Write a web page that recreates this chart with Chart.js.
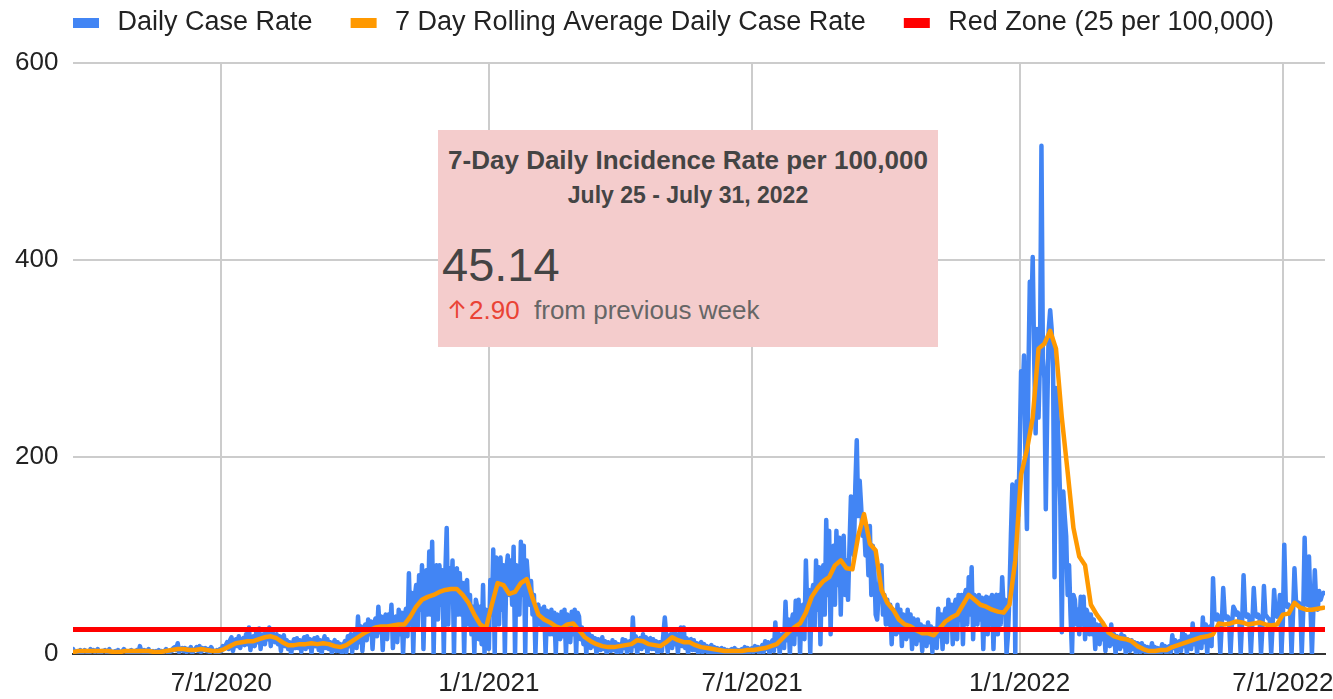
<!DOCTYPE html>
<html>
<head>
<meta charset="utf-8">
<title>Daily Case Rate</title>
<script src="https://cdn.jsdelivr.net/npm/chart.js@4.4.1/dist/chart.umd.min.js"></script>
<style>
  body { margin: 0; background: #fff; }
  #wrap { position: relative; width: 1333px; height: 699px; }
  #card {
    position: absolute; left: 438px; top: 130px; width: 500px; height: 217px;
    background: #f4cccc; font-family: 'Liberation Sans', Arial, sans-serif; color: #444;
  }
  #card div, #card span { position: absolute; white-space: nowrap; }
  .title { left: 0; width: 500px; text-align: center; top: 17px; font: bold 26px/26px 'Liberation Sans', Arial, sans-serif; }
  .dates { left: 0; width: 500px; text-align: center; top: 54px; font: bold 23px/23px 'Liberation Sans', Arial, sans-serif; }
  .big { left: 4px; top: 111px; font: 47px/47px 'Liberation Sans', Arial, sans-serif; }
  .delta, .from { top: 167px; font: 26px/26px 'Liberation Sans', Arial, sans-serif; }
  .arrow { left: 9px; top: 168px; font: 24px/24px Inter, 'DejaVu Sans', sans-serif; color: #ea4335; }
  .delta { left: 31px; color: #ea4335; }
  .from { left: 96px; color: #666; }
</style>
</head>
<body>
<div id="wrap">
  <canvas id="chart" width="1333" height="699"></canvas>
  <div id="card">
    <div class="title">7-Day Daily Incidence Rate per 100,000</div>
    <div class="dates">July 25 - July 31, 2022</div>
    <div class="big">45.14</div>
    <span class="arrow">↑</span><span class="delta">2.90</span><span class="from">from previous week</span>
  </div>
</div>
<script>
// day 0 = 3/21/2020, one value per day, one row per week
const dailyCaseRate = [
  5,2,1,3,0,4,2,  2,4,3,1,0,5,3,  4,2,3,5,1,0,3,  3,4,2,1,5,0,2,
  2,3,1,4,0,2,3,  5,3,2,0,3,4,1,  3,2,4,0,8,3,2,  4,1,3,5,0,2,3,
  2,3,0,4,1,3,2,  3,5,2,0,4,3,6,  7,4,11,2,5,6,3,  6,2,5,3,7,1,4,
  5,7,3,8,2,6,4,  6,3,5,1,7,4,3,  2,4,1,5,3,8,6,  9,12,5,14,17,3,10,
  15,8,18,6,14,16,9,  20,10,27,4,14,18,8,  22,12,26,5,18,20,10,  25,15,27,8,22,20,12,
  20,10,18,3,16,19,8,  14,5,12,0,10,15,6,  16,6,14,2,12,17,5,  18,7,15,1,13,16,8,
  17,4,14,0,12,18,6,  15,5,12,1,11,14,3,  12,3,10,0,9,13,2,  18,8,20,2,15,22,6,
  38,12,28,3,22,30,14,  35,20,33,5,30,36,18,  48,22,38,4,35,40,15,  40,25,50,6,36,38,12,
  45,20,42,0,38,46,18,  82,30,62,2,58,70,25,  80,45,90,5,65,85,40,  104,40,114,0,75,90,35,
  90,50,85,0,80,128,30,  87,55,95,0,85,87,40,  82,40,72,0,70,75,30,  60,20,48,0,55,48,15,
  48,10,70,0,45,40,5,  75,40,106,0,98,85,30,  98,45,90,0,85,100,60,  95,50,109,0,90,85,40,
  114,60,110,0,95,74,50,  74,40,60,0,48,50,30,  46,25,48,0,44,40,20,  45,20,42,0,40,38,15,
  43,18,45,0,40,35,12,  43,20,45,0,42,38,15,  27,10,25,0,22,20,6,  18,8,16,0,15,14,4,
  17,5,13,0,12,10,3,  14,4,12,0,10,9,2,  15,6,14,1,12,13,3,  37,8,18,0,14,16,5,
  20,7,17,0,15,16,5,  15,5,13,0,12,12,3,  20,37,18,2,16,20,6,  22,10,20,1,18,27,8,
  27,6,16,0,14,15,4,  14,4,11,0,10,12,2,  10,3,8,0,7,9,1,  7,2,6,0,5,6,1,
  5,2,4,0,4,5,1,  6,1,4,0,4,5,1,  7,2,6,0,5,6,2,  8,3,7,0,6,9,2,
  13,5,12,0,10,14,3,  32,8,22,0,18,20,6,  53,14,35,0,30,40,10,  54,20,55,0,45,50,15,
  95,40,65,0,60,70,25,  95,45,88,10,80,90,40,  136,60,125,20,100,110,50,  125,70,118,40,110,120,60,
  95,55,110,160,120,100,170,  217,140,176,150,120,130,100,  125,80,130,60,110,90,40,  35,60,85,90,40,60,30,
  55,30,50,10,45,40,20,  50,22,45,8,40,38,15,  45,18,40,5,36,33,10,  35,14,30,3,28,27,8,
  32,12,28,2,26,25,6,  46,18,40,5,38,46,12,  55,25,50,10,48,55,15,  60,35,60,10,58,65,30,
  78,40,88,15,60,55,30,  60,35,57,5,55,58,20,  57,30,60,5,55,60,20,  60,30,78,45,55,0,20,
  60,120,172,165,0,175,140,  204,287,260,303,200,127,280,  378,340,403,300,224,330,240,  300,516,300,280,147,250,329,
  349,330,290,78,270,245,200,  150,22,165,140,120,60,90,  40,0,60,55,30,45,20,  58,30,58,15,45,40,20,
  40,20,35,5,30,28,10,  30,15,28,3,25,22,8,  30,10,20,0,18,16,5,  20,8,18,0,15,14,3,
  14,5,12,0,11,10,2,  11,3,8,0,7,6,1,  11,2,7,0,6,5,1,  10,3,8,0,7,8,2,
  19,6,14,0,12,13,3,  25,8,19,0,17,18,5,  31,10,25,0,22,24,6,  37,12,30,0,27,28,8,
  77,38,35,40,36,0,30,  67,40,36,38,35,0,30,  48,45,40,42,38,0,32,  80,42,38,40,36,0,30,
  67,42,38,40,36,0,28,  69,40,38,36,35,0,30,  65,42,38,40,60,0,32,  111,52,48,50,45,0,40,
  87,55,50,52,48,0,42,  118,55,50,99,48,0,45,  85,50,45,64,55,60,62
];

// 7 day rolling average, read every 4 days
const rollingStep = 4;
const rollingAvg = [
  2,3,3,3,3,3,3,2,2,3,  3,3,3,3,2,2,3,4,5,5,
  4,4,5,4,3,3,5,8,11,12,  13,13,15,17,18,16,12,9,9,10,
  10,11,10,11,10,8,7,9,13,17,  21,24,27,28,28,29,30,30,38,48,
  55,58,60,63,65,66,66,60,52,40,  30,26,50,72,70,61,63,72,76,57,
  40,35,32,28,26,30,31,24,17,13,  10,8,7,7,8,9,10,14,13,10,
  9,8,12,17,14,12,12,9,7,6,  5,4,3,3,3,3,4,4,5,6,
  8,10,16,22,27,31,42,58,67,74,  78,90,95,87,86,120,142,112,105,65,
  52,45,35,30,28,24,21,21,19,26,  33,37,40,50,60,55,50,48,45,43,
  42,50,95,182,207,240,310,315,328,310,  240,185,128,99,90,50,40,32,22,18,
  16,15,13,8,5,3,3,4,4,7,  9,11,13,15,17,18,20,31,30,31,
  33,32,30,31,32,30,29,30,40,41,  52,47,45,45,46,47
];

const redZone = 25;
const lastDay = 861;

const tickLabels = ['7/1/2020', '1/1/2021', '7/1/2021', '1/1/2022', '7/1/2022'];
const tickDays = [102, 286, 467, 651, 832];

const seriesNames = ['Daily Case Rate', '7 Day Rolling Average Daily Case Rate', 'Red Zone (25 per 100,000)'];
const seriesColors = ['#4285f4', '#ff9900', '#ff0000'];

const FONT = "'Liberation Sans', Arial, sans-serif";
Chart.defaults.font.family = FONT;

// legend swatch: a 26x10 bar sitting inside a wider transparent image
function swatch(color) {
  const c = document.createElement('canvas');
  c.width = 60; c.height = 10;
  const g = c.getContext('2d');
  g.fillStyle = color;
  g.fillRect(29, 0, 26, 10);
  return c;
}
const swatches = seriesColors.map(swatch);

new Chart(document.getElementById('chart').getContext('2d'), {
  type: 'line',
  data: {
    datasets: [
      {
        label: seriesNames[0],
        data: dailyCaseRate.map((v, i) => ({x: i, y: v})),
        borderColor: seriesColors[0],
        backgroundColor: seriesColors[0],
        borderWidth: 4.5,
        order: 2
      },
      {
        label: seriesNames[1],
        data: rollingAvg.map((v, i) => ({x: i * rollingStep, y: v})),
        borderColor: seriesColors[1],
        backgroundColor: seriesColors[1],
        borderWidth: 4.5,
        order: 1
      },
      {
        label: seriesNames[2],
        data: [{x: 0, y: redZone}, {x: lastDay, y: redZone}],
        borderColor: seriesColors[2],
        backgroundColor: seriesColors[2],
        borderWidth: 5,
        order: 0
      }
    ]
  },
  options: {
    responsive: false,
    animation: false,
    events: [],
    elements: {
      point: { radius: 0, hoverRadius: 0 },
      line: { tension: 0, borderJoinStyle: 'round', borderCapStyle: 'round' }
    },
    layout: { padding: { left: 35, right: 8, top: 0, bottom: 0 } },
    plugins: {
      tooltip: { enabled: false },
      legend: {
        position: 'top',
        align: 'start',
        labels: {
          font: { size: 27, family: FONT },
          color: '#222',
          padding: 9,
          usePointStyle: true,
          pointStyleWidth: 60,
          sort: (a, b) => a.datasetIndex - b.datasetIndex,
          generateLabels: chart => {
            const items = Chart.defaults.plugins.legend.labels.generateLabels(chart);
            items.forEach(it => { it.pointStyle = swatches[it.datasetIndex]; });
            return items;
          }
        }
      }
    },
    scales: {
      x: {
        type: 'linear',
        min: 0,
        max: lastDay,
        afterBuildTicks: scale => { scale.ticks = tickDays.map(v => ({value: v})); },
        afterFit: scale => { scale.height = 45; scale.paddingLeft = 0; scale.paddingRight = 0; },
        ticks: {
          autoSkip: false,
          maxRotation: 0,
          padding: 14,
          color: '#222',
          font: { size: 26 },
          callback: value => tickLabels[tickDays.indexOf(value)]
        },
        grid: { color: '#cccccc', lineWidth: 2, drawTicks: false },
        border: { display: true, color: '#333', width: 2 }
      },
      xTop: {
        type: 'linear',
        position: 'top',
        afterFit: scale => { scale.height = 17; scale.paddingLeft = 0; scale.paddingRight = 0; },
        ticks: { display: false },
        grid: { display: false },
        border: { display: false }
      },
      y: {
        min: 0,
        max: 600,
        afterFit: scale => { scale.width = 38; },
        ticks: {
          stepSize: 200,
          // labels sit left of the plot; mirrored so they are not clipped to the narrow axis box
          mirror: true,
          crossAlign: 'far',
          padding: -58,
          color: '#222',
          font: { size: 26 }
        },
        grid: {
          color: ctx => (ctx.tick && ctx.tick.value === 0 ? 'rgba(0,0,0,0)' : '#cccccc'),
          lineWidth: 2,
          drawTicks: false
        },
        border: { display: false }
      }
    }
  }
});
</script>
</body>
</html>
